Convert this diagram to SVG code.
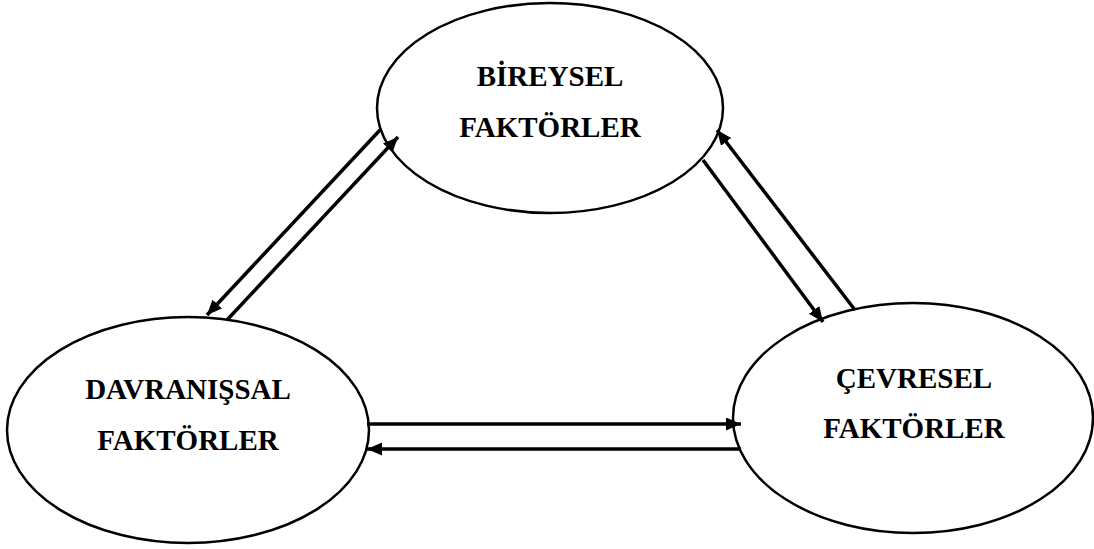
<svg xmlns="http://www.w3.org/2000/svg" width="1094" height="549" viewBox="0 0 1094 549">
<style>
.node ellipse{fill:#fff;stroke:#000;stroke-width:2.5}
.node text{font-family:"Liberation Serif","Times New Roman",serif;font-weight:bold;font-size:29px;fill:#000;text-anchor:middle}
.conn line{stroke:#000;stroke-width:3.5;marker-end:url(#ah)}
</style>
<defs>
<marker id="ah" markerUnits="userSpaceOnUse" markerWidth="16" markerHeight="14" refX="15" refY="6.5" orient="auto">
<path d="M0,0 L15,6.5 L0,13 Z" fill="#000"/>
</marker>
</defs>
<rect width="1094" height="549" fill="#fff"/>
<g id="bireysel" class="node">
<ellipse cx="550" cy="108" rx="173" ry="105"/>
<text x="550" y="86">BİREYSEL</text>
<text x="550" y="137">FAKTÖRLER</text>
</g>
<g id="davranissal" class="node">
<ellipse cx="188" cy="430" rx="181" ry="113"/>
<text x="188" y="399">DAVRANIŞSAL</text>
<text x="188" y="450">FAKTÖRLER</text>
</g>
<g id="cevresel" class="node">
<ellipse cx="913" cy="418" rx="180" ry="115"/>
<text x="914" y="388">ÇEVRESEL</text>
<text x="914" y="438">FAKTÖRLER</text>
</g>
<g id="connectors" class="conn">
<line x1="380" y1="130" x2="207" y2="315"/>
<line x1="227" y1="320" x2="398" y2="137"/>
<line x1="855" y1="310" x2="717" y2="130"/>
<line x1="703" y1="160" x2="823" y2="322"/>
<line x1="367" y1="424" x2="741" y2="424"/>
<line x1="741" y1="449" x2="367" y2="449"/>
</g>
</svg>
